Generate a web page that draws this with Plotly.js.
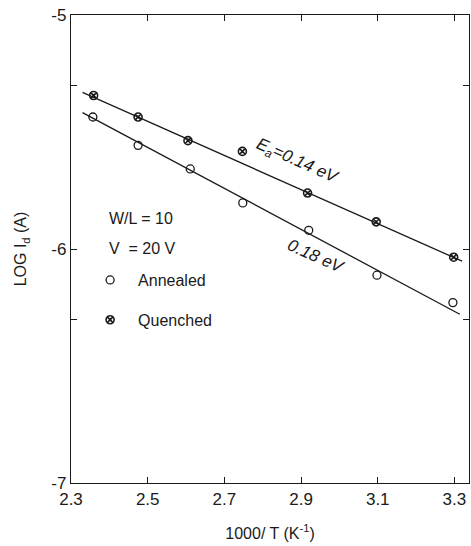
<!DOCTYPE html>
<html>
<head>
<meta charset="utf-8">
<script src="https://cdn.plot.ly/plotly-3.0.1.min.js"></script>
<style>html,body{margin:0;padding:0;background:#fff;}#chart{width:471px;height:546px;}</style>
</head>
<body>
<div id="chart"></div>
<script>
// Data
const annealedX = [2.357, 2.475, 2.611, 2.748, 2.920, 3.098, 3.296];
const annealedY = [-5.436, -5.557, -5.658, -5.803, -5.920, -6.112, -6.229];
const quenchedX = [2.359, 2.475, 2.605, 2.747, 2.917, 3.096, 3.298];
const quenchedY = [-5.344, -5.436, -5.537, -5.583, -5.761, -5.884, -6.035];
// Fitted lines (end points)
const fitAnnealedX = [2.330, 3.314];
const fitAnnealedY = [-5.417, -6.279];
const fitQuenchedX = [2.330, 3.320];
const fitQuenchedY = [-5.331, -6.052];
// Ticks
const xTickVals = [2.3, 2.5, 2.7, 2.9, 3.1, 3.3];
const xTickText = ['2.3', '2.5', '2.7', '2.9', '3.1', '3.3'];
const yTickVals = [-7, -6.301, -6, -5.301, -5];
const yTickText = ['-7', '', '-6', '', '-5'];

const ink = '#1a1a1a';
const fontFam = 'Liberation Sans, Arial, sans-serif';

const traces = [
  {x: fitAnnealedX, y: fitAnnealedY, mode: 'lines', line: {color: ink, width: 1.3}, showlegend: false, hoverinfo: 'skip'},
  {x: fitQuenchedX, y: fitQuenchedY, mode: 'lines', line: {color: ink, width: 1.3}, showlegend: false, hoverinfo: 'skip'},
  {x: annealedX, y: annealedY, mode: 'markers', name: '\u2002Annealed', legendgroup: 'a',
   marker: {symbol: 'circle-open', size: 8, color: ink, line: {width: 1.3, color: ink}}},
  {x: quenchedX, y: quenchedY, mode: 'markers', name: '\u2002Quenched', legendgroup: 'q',
   marker: {symbol: 'circle-x-open', size: 8, color: ink, line: {width: 1.6, color: ink}}}
];

const layout = {
  width: 471, height: 546,
  margin: {l: 71, r: 2, t: 15, b: 63},
  paper_bgcolor: '#fff', plot_bgcolor: '#fff',
  font: {family: fontFam, size: 16, color: ink},
  xaxis: {
    range: [2.3, 3.338], tickvals: xTickVals, ticktext: xTickText,
    ticks: 'inside', ticklen: 6, tickcolor: ink, tickwidth: 1,
    showline: true, linecolor: ink, linewidth: 1.2, mirror: 'ticks',
    showgrid: false, zeroline: false,
    tickfont: {size: 17, family: fontFam, color: ink},
    title: {text: '1000/ T (K<sup>-1</sup>)', font: {size: 16, family: fontFam, color: ink}, standoff: 20}
  },
  yaxis: {
    range: [-7, -5], tickvals: yTickVals, ticktext: yTickText,
    ticks: 'inside', ticklen: 6, tickcolor: ink, tickwidth: 1,
    showline: true, linecolor: ink, linewidth: 1.2, mirror: 'ticks',
    showgrid: false, zeroline: false,
    tickfont: {size: 17, family: fontFam, color: ink},
    title: {text: 'LOG I<sub>d</sub> (A)', font: {size: 16, family: fontFam, color: ink}, standoff: 20}
  },
  showlegend: true,
  legend: {
    x: 0.048, y: 0.47, xanchor: 'left', yanchor: 'top',
    bgcolor: 'rgba(0,0,0,0)', borderwidth: 0,
    traceorder: 'grouped', tracegroupgap: 16, itemwidth: 30,
    font: {size: 16, family: fontFam, color: ink}
  },
  annotations: [
    {xref: 'paper', yref: 'paper', x: 0.09, y: (483-218)/468, xanchor: 'left', yanchor: 'middle',
     text: 'W/L = 10', showarrow: false, font: {size: 16, family: fontFam, color: ink}},
    {xref: 'paper', yref: 'paper', x: 0.09, y: (483-248)/468, xanchor: 'left', yanchor: 'middle',
     text: 'V  = 20 V', showarrow: false, font: {size: 16, family: fontFam, color: ink}},
    {xref: 'x', yref: 'y', x: 2.89, y: -5.628, text: '<i>E<sub>a</sub>=0.14 eV</i>', textangle: 24,
     showarrow: false, font: {size: 17, family: fontFam, color: ink}},
    {xref: 'x', yref: 'y', x: 2.94, y: -6.03, text: '<i>0.18 eV</i>', textangle: 24,
     showarrow: false, font: {size: 17, family: fontFam, color: ink}}
  ]
};

Plotly.newPlot('chart', traces, layout, {displayModeBar: false, staticPlot: true});
</script>
</body>
</html>
